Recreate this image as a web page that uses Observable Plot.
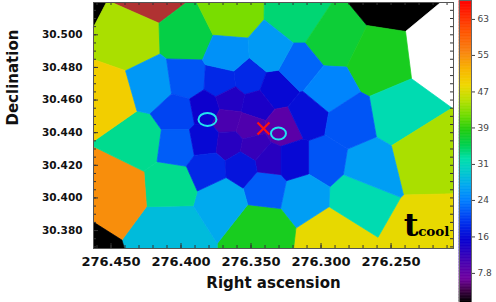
<!DOCTYPE html>
<html><head><meta charset="utf-8">
<script src="https://cdn.jsdelivr.net/npm/d3@7"></script>
<script src="https://cdn.jsdelivr.net/npm/@observablehq/plot@0.6"></script>
<style>
html,body{margin:0;padding:0;background:#fff;}
#chart{position:relative;width:496px;height:302px;font-family:"DejaVu Sans",sans-serif;}
#chart svg{position:absolute;top:0;}
</style></head><body><div id="chart"></div>
<script>
// Voronoi bin generators (right ascension, declination) and cooling time values
const ra = [276.4854,276.4204,276.4361,276.3946,276.3646,276.3168,276.2932,276.2518,276.2146,276.2596,
  276.2446,276.2268,276.2932,276.2254,276.2754,276.2675,276.2982,276.3125,276.3432,276.4054,
  276.3396,276.3704,276.4061,276.4454,276.4775,276.4289,276.4504,276.4204,276.3954,276.3711,
  276.3518,276.3325,276.3168,276.2954,276.3668,276.3361,276.4018,276.3825,276.3646,276.3468,
  276.3661,276.3518,276.3275,276.3096,276.2811,276.4018,276.3825,276.3654,276.3482,276.3375,
  276.3196,276.3804,276.3561];
const dec = [30.5186,30.5272,30.4965,30.4977,30.5106,30.5100,30.4965,30.5259,30.4873,30.4824,
  30.4517,30.4272,30.3770,30.3770,30.4015,30.4186,30.4229,30.4027,30.3819,30.3812,
  30.4076,30.4002,30.4088,30.4064,30.3628,30.4352,30.4616,30.4689,30.4720,30.4708,
  30.4726,30.4665,30.4800,30.4652,30.4873,30.4891,30.4517,30.4548,30.4597,30.4567,
  30.4475,30.4438,30.4432,30.4505,30.4462,30.4321,30.4352,30.4334,30.4309,30.4229,
  30.4229,30.4186,30.4199];
const tcool = [0,70,44.6,36,42.4,34.4,36.8,0,99,38,
  32,44.6,48,48,32,26,21,26,38,28.5,
  21.5,27,33.5,55,0,33.5,49.5,25.5,21,18,
  18,15.5,22,24,25,25.7,20,14.5,13,13.5,
  10,9.5,8.5,16,21,21.5,15.5,12.5,11.5,12.5,
  15.5,18,16.5];
// markers
const ellipseRa = [276.3811, 276.3304];
const ellipseDec = [30.4481, 30.4395];
const centerRa = [276.3411];
const centerDec = [30.4426];
// ticks
const xTicks = [276.45, 276.40, 276.35, 276.30, 276.25];
const yTicks = [30.38, 30.40, 30.42, 30.44, 30.46, 30.48, 30.50];
const cbTicks = [7.8, 15.7, 23.6, 31.4, 39.3, 47.1, 55.0, 62.8];
const cbLabels = ["7.8", "16", "24", "31", "39", "47", "55", "63"];

const cells = ra.map((r, i) => ({ra: r, dec: dec[i], v: tcool[i]}));
const xDomain = [276.4625, 276.2054];
const yDomain = [30.3690, 30.5198];
const cDomain = [1.5, 66.9];

const stopT = [0, .040, .079, .132, .205, .272, .338, .387, .437, .477, .520, .570, .619, .669, .719, .768, .834, .901, 1];
const stopC = ["#000000","#400048","#7000a0","#4800b0","#0800d0","#0038f0","#0080ff","#00a8f0","#00ccc8","#00e0a8",
  "#00d050","#20cc10","#70dc00","#b8e000","#f0d800","#f8b800","#f88010","#ff5000","#ff0000"];
const base = d3.scaleLinear().domain(stopT).range(stopC).interpolate(d3.interpolateRgb).clamp(true);
const cmap = function(t) {
  if (t < 0) return "#000000";
  if (t > 1.3) return "#ffffff";
  if (t > 1) return "#b03232";
  return base(t);
};
const color = {type: "linear", domain: cDomain, interpolate: cmap};

const ellipseSym = (rx, ry) => ({draw(ctx) {
  const k = 0.5523;
  ctx.moveTo(rx, 0);
  ctx.bezierCurveTo(rx, ry * k, rx * k, ry, 0, ry);
  ctx.bezierCurveTo(-rx * k, ry, -rx, ry * k, -rx, 0);
  ctx.bezierCurveTo(-rx, -ry * k, -rx * k, -ry, 0, -ry);
  ctx.bezierCurveTo(rx * k, -ry, rx, -ry * k, rx, 0);
  ctx.closePath();
}});

const W = 455, H = 302, mL = 93, mR = 2, mT = 2, mB = 54;
const fw = W - mL - mR, fh = H - mT - mB;
const xMinor = d3.range(27621, 27647).map(d => d / 100);
const yMinor = d3.range(6074, 6104).map(d => d / 200);
const tickCol = "#333";
const ellipses = ellipseRa.map((r, i) => ({ra: r, dec: ellipseDec[i]}));

const main = Plot.plot({
  width: W, height: H, marginLeft: mL, marginRight: mR, marginTop: mT, marginBottom: mB,
  x: {domain: xDomain},
  y: {domain: yDomain},
  color,
  style: {fontFamily: "DejaVu Sans, sans-serif", background: "transparent", overflow: "visible", color: "#111"},
  marks: [
    Plot.voronoi(cells, {x: "ra", y: "dec", fill: "v", stroke: "v", strokeWidth: 0.7}),
    Plot.ruleX(xMinor, {stroke: tickCol, insetTop: fh - 3}),
    Plot.ruleX(xMinor, {stroke: tickCol, insetBottom: fh - 3}),
    Plot.ruleY(yMinor, {stroke: tickCol, insetRight: fw - 3}),
    Plot.ruleY(yMinor, {stroke: tickCol, insetLeft: fw - 3}),
    Plot.ruleX(xTicks, {stroke: tickCol, insetTop: fh - 5}),
    Plot.ruleY(yTicks, {stroke: tickCol, insetRight: fw - 5}),
    Plot.frame({stroke: "#555"}),
    Plot.dot(ellipses.slice(0, 1),
      {x: "ra", y: "dec", symbol: ellipseSym(9, 6.5), stroke: "#22e4f0", strokeWidth: 2, fill: "none"}),
    Plot.dot(ellipses.slice(1),
      {x: "ra", y: "dec", symbol: ellipseSym(7.5, 6), stroke: "#22e4f0", strokeWidth: 2, fill: "none"}),
    Plot.dot(centerRa.map((r, i) => ({ra: r, dec: centerDec[i]})),
      {x: "ra", y: "dec", symbol: "times", r: 5.5, stroke: "#ff1010", strokeWidth: 2.2}),
    Plot.text(["t"], {text: d => d, frameAnchor: "bottom-right", textAnchor: "end", lineAnchor: "bottom",
      dx: -35, dy: -13, fontSize: 32, fontWeight: "bold", fontFamily: "DejaVu Serif", fill: "#000"}),
    Plot.text(["cool"], {text: d => d, frameAnchor: "bottom-right", textAnchor: "end", lineAnchor: "bottom",
      dx: -4, dy: -13, fontSize: 13.5, fontWeight: "bold", fontFamily: "DejaVu Serif", fill: "#000"}),
    Plot.axisX({ticks: xTicks, tickFormat: d3.format(".3f"), tickSize: 0, tickPadding: 8,
      fontSize: 13, fontWeight: "bold", label: null}),
    Plot.axisY({ticks: yTicks, tickFormat: d3.format(".3f"), tickSize: 0, tickPadding: 11,
      fontSize: 10.5, fontWeight: "bold", label: null}),
    Plot.text(["Right ascension"], {text: d => d, frameAnchor: "bottom", dy: 39, fontSize: 15, fontWeight: "bold"}),
    Plot.text(["Declination"], {text: d => d, frameAnchor: "left", dx: -80, rotate: -90, fontSize: 15, fontWeight: "bold"})
  ]
});
main.style.left = "0px";

const N = 200;
const bins = d3.range(N).map(i => ({a: cDomain[0] + (cDomain[1] - cDomain[0]) * i / N,
  b: cDomain[0] + (cDomain[1] - cDomain[0]) * (i + 1) / N}));
const bar = Plot.plot({
  width: 41, height: 302, marginLeft: 4, marginRight: 25, marginTop: 0, marginBottom: 0,
  x: {domain: [0, 1], axis: null},
  y: {domain: cDomain, axis: null},
  color,
  style: {fontFamily: "DejaVu Sans, sans-serif", background: "transparent", overflow: "visible", color: "#444"},
  marks: [
    Plot.rect(bins, {x1: 0, x2: 1, y1: "a", y2: "b", fill: d => (d.a + d.b) / 2, stroke: d => (d.a + d.b) / 2, strokeWidth: 0.6}),
    Plot.frame({stroke: "#666"}),
    Plot.axisY({anchor: "right", ticks: cbTicks, tickFormat: d => cbLabels[cbTicks.indexOf(d)],
      tickSize: 3, tickPadding: 3, fontSize: 9, label: null})
  ]
});
bar.style.left = "455px";

const chart = document.getElementById("chart");
chart.appendChild(main);
chart.appendChild(bar);
</script>
</body></html>
